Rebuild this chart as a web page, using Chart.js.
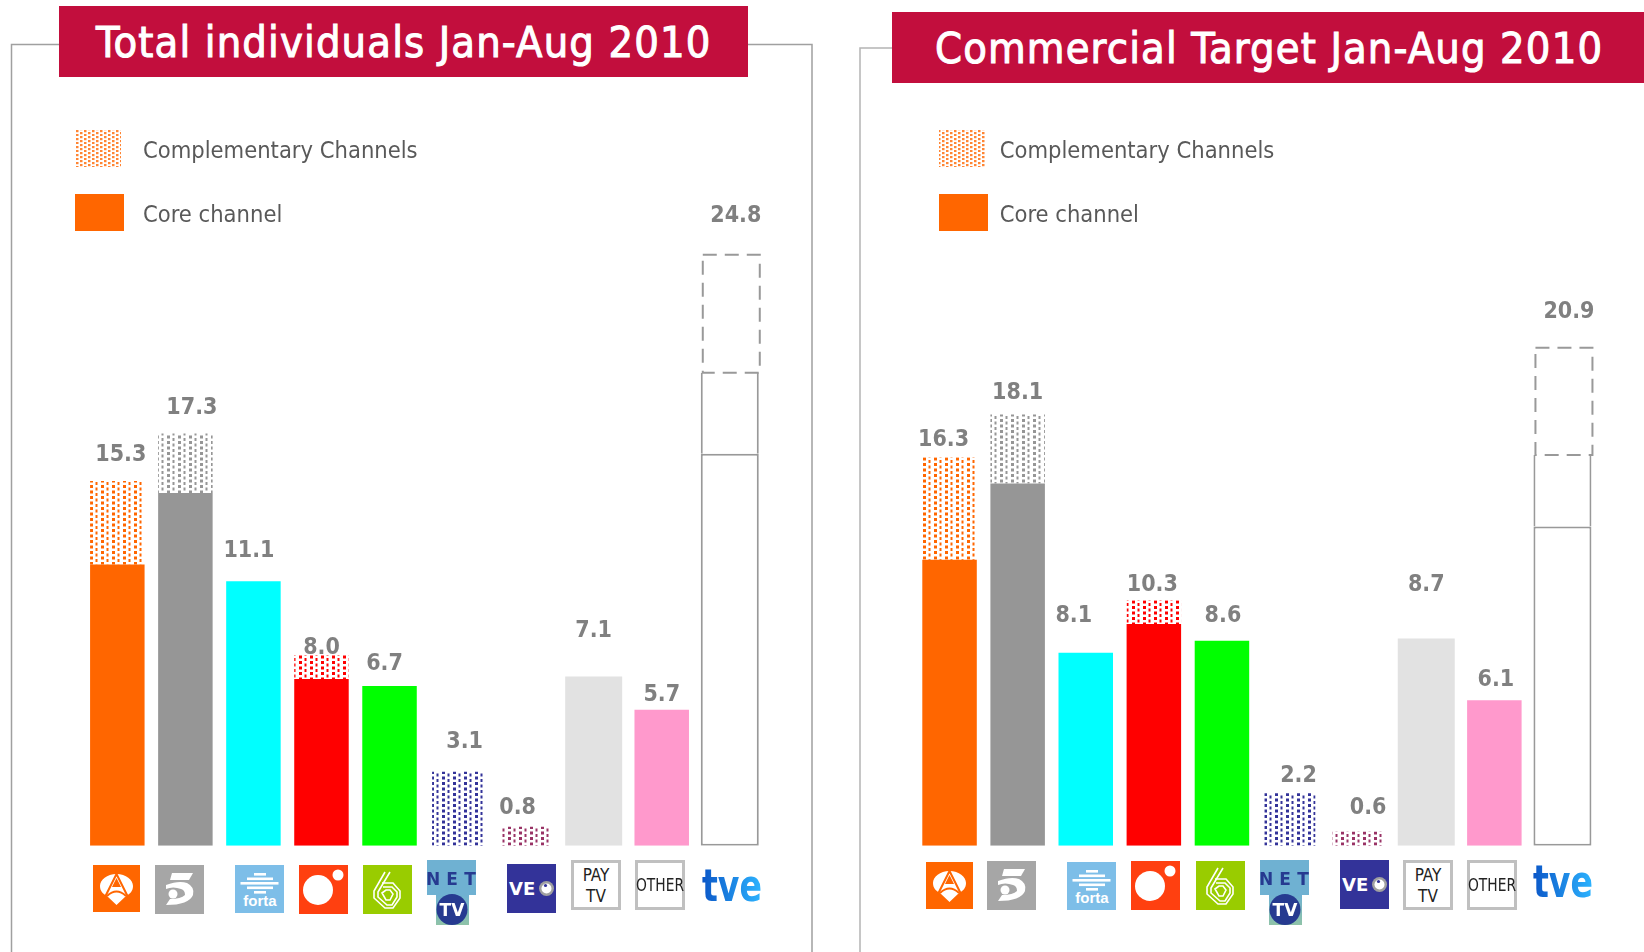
<!DOCTYPE html>
<html>
<head>
<meta charset="utf-8">
<style>
html,body{margin:0;padding:0;background:#fff;width:1644px;height:952px;overflow:hidden;font-family:"DejaVu Sans Condensed","DejaVu Sans",sans-serif}
canvas{position:absolute;top:0}
svg{position:absolute;left:0;top:0}
.t{position:absolute;background:#C20E3D;color:#fff;font-weight:400;-webkit-text-stroke:1px #fff;letter-spacing:1.15px;white-space:nowrap;font-size:43px;line-height:73px;box-sizing:border-box}
</style>
<script src="https://cdn.jsdelivr.net/npm/chart.js@4"></script>
</head>
<body>
<svg id="frame" width="1644" height="952"></svg>
<div class="t" style="left:59px;top:6px;width:689px;height:71px;padding-left:37px">Total individuals Jan-Aug 2010</div>
<div class="t" style="left:892px;top:12px;width:752px;height:71px;padding-left:43px">Commercial Target Jan-Aug 2010</div>
<canvas id="left" width="822" height="952" style="left:0"></canvas>
<canvas id="right" width="822" height="952" style="left:822px"></canvas>
<svg id="logos" width="1644" height="952"></svg>
<script>
const categories = ['Antena 3','Telecinco','FORTA','Cuatro','laSexta','Net TV','Veo','Pay TV','Other','TVE'];
const legendLabels = ['Complementary Channels','Core channel'];

const coreLeft  = [11.8,14.8,11.1,7.0,6.7,0,0,7.1,5.7,16.45];
const extraLeft = [0,0,0,0,0,0,0,0,0,3.4];
const compLeft  = [3.5,2.5,0,1.0,0,3.1,0.8,0,0,4.95];

const coreRight  = [12.0,15.2,8.1,9.3,8.6,0,0,8.7,6.1,13.4];
const extraRight = [0,0,0,0,0,0,0,0,0,3.0];
const compRight  = [4.3,2.9,0,1.0,0,2.2,0.6,0,0,4.5];

const barColors = ['#FF6600','#969696','#00FFFF','#FF0000','#00FF00','#333399','#993366','#E2E2E2','#FF99CC','#FFFFFF'];
const barWidths = [54.5,54.5,54.5,54.5,54.5,51,51,57,54.5,58];

// hand placed value labels: [dx, rise above bar top]
const labelShiftLeft  = [[3.5,26.5],[6.5,25],[-4.5,30.5],[0,7.5],[-5,22.5],[7,29.5],[-8,18.5],[0,45],[0,14.5],[6,39]];
const labelShiftRight = [[-6,17.5],[0,21.5],[-12,36.5],[-1.5,15.5],[1,24.5],[8.5,17],[10,23.5],[0,53.5],[1.5,20.5],[6.5,36]];

const LABEL_FONT = '700 23px "DejaVu Sans Condensed","DejaVu Sans",sans-serif';
const LEGEND_FONT = '23.5px "DejaVu Sans Condensed","DejaVu Sans",sans-serif';

function dotPattern(ctx,color,alpha){
  const c=document.createElement('canvas');c.width=11;c.height=11;
  const g=c.getContext('2d');g.fillStyle=color;g.globalAlpha=alpha||1;
  [0,5.5].forEach(y=>{
    g.fillRect(2,y+1,3,3);
    g.fillRect(7.5,y+3.5,2,3);
  });
  g.fillRect(7.5,-2,2,3);
  return ctx.createPattern(c,'repeat');
}
function finePattern(ctx,color){
  const c=document.createElement('canvas');c.width=8;c.height=8;
  const g=c.getContext('2d');g.fillStyle=color;g.globalAlpha=.8;
  [[0,0],[4,2],[0,4],[4,6]].forEach(p=>g.fillRect(p[0],p[1],2.5,2.2));
  return ctx.createPattern(c,'repeat');
}

const distinctWidths=[...new Set(barWidths)];
function series(label,values,fill,extra){
  return distinctWidths.map(w=>Object.assign({
    label,
    data:values.map((v,i)=>(barWidths[i]===w&&v>0)?v:null),
    barThickness:w,
    backgroundColor:fill,
    stack:'s',
    inflateAmount:0
  },extra||{}));
}

const valueLabels={id:'valueLabels',afterDatasetsDraw(chart,a,o){
  const ctx=chart.ctx,tops=categories.map(()=>null);let totals=categories.map(()=>0);
  chart.data.datasets.forEach((d,di)=>{
    const m=chart.getDatasetMeta(di);
    d.data.forEach((v,i)=>{
      if(v==null)return;
      totals[i]+=v;
      const e=m.data[i];
      if(tops[i]===null||e.y<tops[i].y)tops[i]={x:e.x,y:e.y};
    });
  });
  ctx.save();ctx.font=LABEL_FONT;ctx.fillStyle='#808080';ctx.textAlign='center';ctx.textBaseline='middle';
  totals.forEach((t,i)=>{
    const s=o.shift[i];
    ctx.fillText(t.toFixed(1),tops[i].x+s[0],tops[i].y-s[1]);
  });
  ctx.restore();
}};

const dashedBox={id:'dashedBox',afterDatasetsDraw(chart){
  const ctx=chart.ctx,idx=categories.indexOf('TVE');
  chart.data.datasets.forEach((d,di)=>{
    if(!d.dashed||d.data[idx]==null)return;
    const e=chart.getDatasetMeta(di).data[idx];
    ctx.save();ctx.strokeStyle='#999';ctx.lineWidth=2;ctx.setLineDash([14,8]);
    ctx.strokeRect(e.x-e.width/2+2,e.y,e.width-1,e.base-e.y);
    ctx.restore();
  });
}};

const sideLegend={id:'sideLegend',afterDraw(chart,a,o){
  const ctx=chart.ctx;ctx.save();
  ctx.fillStyle=finePattern(ctx,barColors[0]);
  ctx.fillRect(o.x,130,46,37);
  ctx.fillStyle=barColors[0];
  ctx.fillRect(o.x,194,49,37);
  ctx.font=LEGEND_FONT;ctx.fillStyle='#595959';ctx.textBaseline='middle';
  ctx.fillText(legendLabels[0],o.tx,152);
  ctx.fillText(legendLabels[1],o.tx,216);
  ctx.restore();
}};

function build(id,core,extra,comp,shift,left,pitch,legend){
  const cv=document.getElementById(id),ctx=cv.getContext('2d');
  const compFills=barColors.map((c,i)=>categories[i]==='TVE'?'rgba(0,0,0,0)':dotPattern(ctx,c));
  const isTve=c=>categories[c.dataIndex]==='TVE';
  const datasets=[
    ...series('Core channel',core,barColors,{borderColor:'#999999',borderWidth:c=>isTve(c)?2:0,borderSkipped:false}),
    ...series('Core channel (second)',extra,'#FFFFFF',{borderColor:'#999999',borderWidth:{left:2,right:2,top:0,bottom:0},borderSkipped:false}),
    ...series('Complementary Channels',comp,compFills,{dashed:true})
  ];
  new Chart(ctx,{
    type:'bar',
    data:{labels:categories,datasets},
    plugins:[valueLabels,dashedBox,sideLegend],
    options:{
      responsive:false,animation:false,
      layout:{padding:{left:left,right:822-left-pitch*10,top:130.8,bottom:952-845.7}},
      scales:{
        x:{stacked:true,display:false},
        y:{stacked:true,display:false,min:0,max:30}
      },
      plugins:{
        legend:{display:false},tooltip:{enabled:false},
        valueLabels:{shift},
        sideLegend:legend
      }
    }
  });
}
build('left',coreLeft,extraLeft,compLeft,labelShiftLeft,83.3,68.05,{x:75,tx:143});
build('right',coreRight,extraRight,compRight,labelShiftRight,93.5,68.1,{x:117,tx:177.7});

// frames
document.getElementById('frame').innerHTML=
 '<path d="M59 44.5H11.5V952M748 44.5H812V952" fill="none" stroke="#A0A0A0" stroke-width="1.5"/>'+
 '<path d="M892 48H860V952" fill="none" stroke="#B4B4B4" stroke-width="1.5"/>';

// channel logos
const F='font-family="DejaVu Sans,sans-serif"';
const FC='font-family="DejaVu Sans Condensed,sans-serif"';
const logoMakers={
 a3:()=>`<rect width="47" height="47" fill="#FF6600"/><path d="M23.5 9C33 9 40 15 40 21C40 26 37 29 33 31L23.5 40L14 31C10 29 7 26 7 21C7 15 14 9 23.5 9Z" fill="#fff"/><path d="M12 32L23.5 9L35 32" fill="none" stroke="#FF6600" stroke-width="2"/><path d="M23.5 13L19 22H28Z" fill="#FF6600"/><path d="M14 31Q23.5 22 33 31" fill="none" stroke="#FF6600" stroke-width="2"/>`,
 t5:()=>`<rect width="49" height="49" fill="#A6A6A6"/><path d="M17 8H38L34 15H15Z" fill="#fff"/><path d="M11 20Q24 15 32 18Q40 22 38 30Q34 40 11 40L15 34Q26 34 30 30Q30 25 26 24Q18 21 11 24Z" fill="#fff"/><circle cx="18" cy="29" r="4.5" fill="#fff"/>`,
 forta:()=>`<rect width="49" height="48" fill="#7DBEE8"/><g fill="#fff"><rect x="19" y="8" width="12" height="2.6"/><rect x="12" y="12.5" width="26" height="2.6"/><rect x="5.5" y="17" width="38" height="2.6"/><rect x="12" y="21.5" width="26" height="2.6"/><rect x="19" y="26" width="12" height="2.6"/></g><text x="25" y="41" text-anchor="middle" font-family="Liberation Sans,sans-serif" font-weight="700" font-size="15" fill="#fff">forta</text>`,
 cuatro:()=>`<rect width="49" height="49" fill="#FF4010"/><circle cx="19" cy="25" r="15" fill="#fff"/><circle cx="39" cy="10" r="5.5" fill="#fff"/>`,
 six:()=>`<rect width="49" height="49" fill="#99CC00"/><g fill="none" stroke="#fff" stroke-width="1.6"><path d="M22 7L11 26L11 33L22 43H30L37 33L37 26L30 18H19"/><path d="M27 7L15 27V32L24 40H29L34 32V27L29 22H20"/><path d="M19 28L23 25H27L30 29L27 35H23Z"/></g>`,
 net:()=>`<rect x="9" y="35" width="33" height="30" fill="url(#tvG)"/><rect width="49" height="35" fill="#6FB1D2"/><g ${F} font-weight="700" font-size="17" fill="#263A90" text-anchor="middle"><text x="6" y="25">N</text><text x="25" y="25">E</text><text x="43" y="25">T</text></g><circle cx="25" cy="49.5" r="15.5" fill="#263A90"/><text x="25" y="56" text-anchor="middle" ${F} font-weight="700" font-size="17" fill="#fff">TV</text>`,
 veo:()=>`<rect width="49" height="49" fill="#333399"/><text x="2" y="31" ${F} font-weight="700" font-size="18" fill="#fff">VE</text><circle cx="39.5" cy="24.5" r="7.5" fill="#A0A0A0"/><circle cx="39.5" cy="24.5" r="5" fill="#fff"/><circle cx="38.5" cy="21.5" r="1.6" fill="#333399"/>`,
 pay:()=>`<rect x="1.5" y="1.5" width="47" height="47" fill="#fff" stroke="#C0C0C0" stroke-width="3"/><g ${FC} font-size="17" fill="#222" text-anchor="middle"><text x="25" y="21">PAY</text><text x="25" y="42">TV</text></g>`,
 other:()=>`<rect x="1.5" y="1.5" width="47" height="47" fill="#fff" stroke="#C0C0C0" stroke-width="3"/><text x="25" y="31" ${FC} font-size="17" fill="#222" text-anchor="middle" textLength="48" lengthAdjust="spacingAndGlyphs">OTHER</text>`,
 tve:()=>`<text x="0" y="31" ${F} font-weight="700" font-size="44" fill="url(#tveG)" textLength="60" lengthAdjust="spacingAndGlyphs">tve</text>`
};
const logoOrder=['a3','t5','forta','cuatro','six','net','veo','pay','other','tve'];
const logoLeft=[[93,865],[155,865],[235,865],[299,865],[363,865],[427,860],[507,864],[571,860],[635,860],[702,870]];
const logoRight=[[926,862],[987,861],[1067,862],[1131,861],[1196,861],[1260,860],[1340,860],[1403,860],[1467,860],[1533,866]];
let html='<defs><linearGradient id="tveG" x1="0" x2="1" y1="0" y2="0"><stop offset="0" stop-color="#0B57C8"/><stop offset="1" stop-color="#2DB4FF"/></linearGradient><linearGradient id="tvG" x1="0" x2="0" y1="0" y2="1"><stop offset="0" stop-color="#6FB1D2"/><stop offset="1" stop-color="#8FC3A8"/></linearGradient></defs>';
[logoLeft,logoRight].forEach(set=>set.forEach((p,i)=>{
  html+=`<g transform="translate(${p[0]},${p[1]})">${logoMakers[logoOrder[i]]()}</g>`;
}));
document.getElementById('logos').innerHTML=html;
</script>
</body>
</html>
